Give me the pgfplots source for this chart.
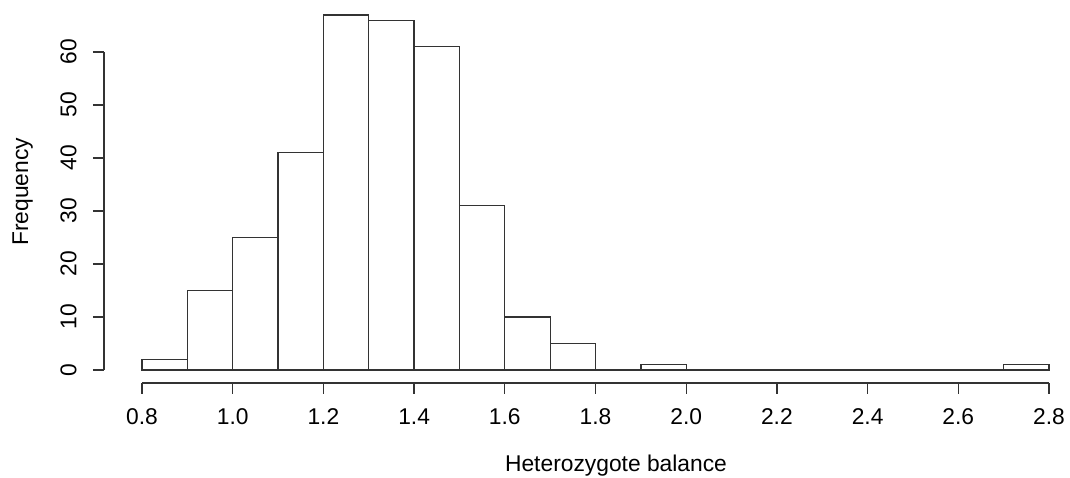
\documentclass[border=0pt]{standalone}
\usepackage{pgfplots}
\usepackage{pgfplotstable}
\pgfplotsset{compat=1.18}
\usepackage{fontspec}
\setmainfont{Liberation Sans}
\begin{document}
\fontsize{22.8}{27}\selectfont
\pgfplotstableread{
x y
0.8 2
0.9 15
1.0 25
1.1 41
1.2 67
1.3 66
1.4 61
1.5 31
1.6 10
1.7 5
1.8 0
1.9 1
2.0 0
2.1 0
2.2 0
2.3 0
2.4 0
2.5 0
2.6 0
2.7 1
2.8 1
}\hist
\begin{tikzpicture}
\useasboundingbox (0,0) rectangle (1070pt,478pt);
\begin{axis}[at={(142pt,108pt)}, anchor=south west, scale only axis,
  width=907pt, height=355.1pt, xmin=0.8, xmax=2.8, ymin=0, ymax=67,
  hide axis, clip=false, enlargelimits=false]
\addplot[ybar interval, fill=white, draw=black!80, line width=1.3pt] table {\hist};
\end{axis}
\begin{axis}[at={(142pt,95pt)}, anchor=south west, scale only axis,
  width=907pt, height=10pt, xmin=0.8, xmax=2.8, ymin=0, ymax=1,
  axis x line=bottom, axis y line=none,
  axis line style={-, black!80, line width=1.3pt},
  xtick={0.8,1.0,1.2,1.4,1.6,1.8,2.0,2.2,2.4,2.6,2.8},
  xticklabels={0.8,1.0,1.2,1.4,1.6,1.8,2.0,2.2,2.4,2.6,2.8},
  tick align=outside, major tick length=11pt,
  tick style={black!80, line width=1.3pt},
  xticklabel style={anchor=base}, xticklabel shift=30.5pt]
\end{axis}
\begin{axis}[at={(104pt,108pt)}, anchor=south west, scale only axis,
  width=10pt, height=318pt, ymin=0, ymax=60, xmin=0, xmax=1,
  axis y line=left, axis x line=none,
  axis line style={-, black!80, line width=1.3pt},
  ytick={0,10,20,30,40,50,60},
  yticklabels={0,10,20,30,40,50,60},
  tick align=outside, major tick length=11pt,
  tick style={black!80, line width=1.3pt},
  yticklabel style={rotate=90, anchor=base}, yticklabel shift=16.5pt]
\end{axis}
\node[rotate=90, anchor=base] at (28pt,286pt) {Frequency};
\node[anchor=base] at (616pt,6.3pt) {Heterozygote balance};
\end{tikzpicture}
\end{document}
